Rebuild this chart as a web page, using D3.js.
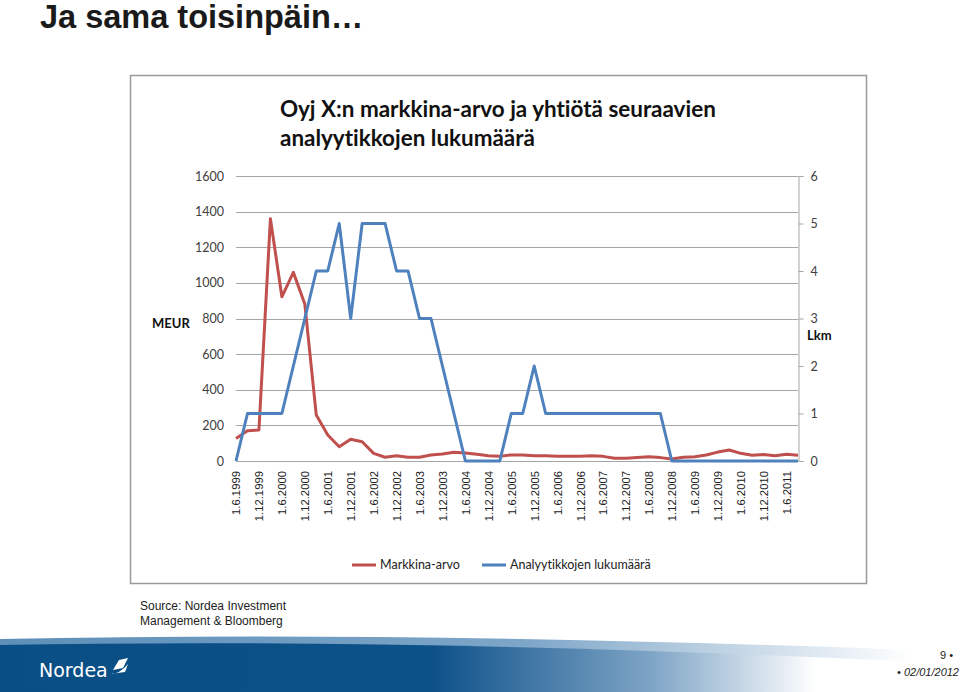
<!DOCTYPE html>
<html>
<head>
<meta charset="utf-8">
<script src="https://cdn.jsdelivr.net/npm/d3@7"></script>
<style>
  body { margin: 0; background: #fff; }
  svg { display: block; }
  text { font-variant-ligatures: none; }
</style>
</head>
<body>
<script>
// quarterly dates, labels shown on every second one
var quarters = ["1.6.1999","1.9.1999","1.12.1999",
  "1.3.2000","1.6.2000","1.9.2000","1.12.2000",
  "1.3.2001","1.6.2001","1.9.2001","1.12.2001",
  "1.3.2002","1.6.2002","1.9.2002","1.12.2002",
  "1.3.2003","1.6.2003","1.9.2003","1.12.2003",
  "1.3.2004","1.6.2004","1.9.2004","1.12.2004",
  "1.3.2005","1.6.2005","1.9.2005","1.12.2005",
  "1.3.2006","1.6.2006","1.9.2006","1.12.2006",
  "1.3.2007","1.6.2007","1.9.2007","1.12.2007",
  "1.3.2008","1.6.2008","1.9.2008","1.12.2008",
  "1.3.2009","1.6.2009","1.9.2009","1.12.2009",
  "1.3.2010","1.6.2010","1.9.2010","1.12.2010",
  "1.3.2011","1.6.2011","1.9.2011"];

var tickLabels = ["1.6.1999","1.12.1999","1.6.2000","1.12.2000","1.6.2001","1.12.2001",
  "1.6.2002","1.12.2002","1.6.2003","1.12.2003","1.6.2004","1.12.2004","1.6.2005",
  "1.12.2005","1.6.2006","1.12.2006","1.6.2007","1.12.2007","1.6.2008","1.12.2008",
  "1.6.2009","1.12.2009","1.6.2010","1.12.2010","1.6.2011"];

// Markkina-arvo, MEUR
var marketValue = [127,170,174,1360,922,1059,881,258,146,80,122,108,43,21,30,21,21,34,39,49,
  45,38,30,26,34,34,30,30,26,26,26,30,26,15,15,20,24,19,11,21,24,34,50,62,43,32,36,30,38,32];

// Analyytikkojen lukumäärä
var analysts = [0,1,1,1,1,2,3,4,4,5,3,5,5,5,4,4,3,3,2,1,0,0,0,0,1,1,2,
  1,1,1,1,1,1,1,1,1,1,1,0,0,0,0,0,0,0,0,0,0,0,0];

var leftTicks = [0,200,400,600,800,1000,1200,1400,1600];
var rightTicks = [0,1,2,3,4,5,6];

var width = 960,
    height = 692;

var red = "#c0504d",
    blue = "#4f81bd";

var svg = d3.select("body").append("svg")
    .attr("width", width)
    .attr("height", height)

var defs = svg.append("defs");

// slide title
svg.append("text")
    .attr("x", 40)
    .attr("y", 28)
    .attr("font-family", "Liberation Sans, Arial, sans-serif")
    .attr("font-weight", "bold")
    .attr("font-size", 32.5)
    .attr("fill", "#1a1a1a")
    .text("Ja sama toisinpäin…");

// chart box
svg.append("rect")
    .attr("x", 130.5)
    .attr("y", 75.5)
    .attr("width", 736)
    .attr("height", 508)
    .attr("fill", "#fff")
    .attr("stroke", "#9a9a9a")
    .attr("stroke-width", 1.5);

var title = svg.append("g")
    .attr("font-family", "Lato, sans-serif")
    .attr("font-weight", "bold")
    .attr("fill", "#111");
var t1 = title.append("text").attr("x", 280).attr("y", 117).text("Oyj X:n markkina-arvo ja yhtiötä seuraavien");
var t2 = title.append("text").attr("x", 280).attr("y", 146).text("analyytikkojen lukumäärä");
// fit first line to the width seen in the picture
t1.attr("font-size", 20);
var fs = 20 * 436 / t1.node().getComputedTextLength();
t1.attr("font-size", fs);
t2.attr("font-size", fs);

var x = d3.scalePoint()
    .domain(quarters)
    .range([236, 798]);

var yLeft = d3.scaleLinear()
    .domain([0, 1600])
    .range([461, 176]);

var yRight = d3.scaleLinear()
    .domain([0, 6])
    .range([461, 176]);

// gridlines
svg.append("g")
    .selectAll("line")
    .data(leftTicks)
    .enter().append("line")
    .attr("x1", 236)
    .attr("x2", 798)
    .attr("y1", function(d){ return Math.round(yLeft(d)) + 0.5 })
    .attr("y2", function(d){ return Math.round(yLeft(d)) + 0.5 })
    .attr("stroke", "#a6a6a6")
    .attr("stroke-width", 1);

// left axis labels
var leftAxis = svg.append("g")
    .attr("transform", "translate(236,0)")
    .call(d3.axisLeft(yLeft).tickValues(leftTicks).tickFormat(d3.format("d")).tickSize(0).tickPadding(12));
leftAxis.select(".domain").remove();
leftAxis.selectAll("text")
    .attr("font-family", "Lato, sans-serif")
    .attr("font-size", 12.5)
    .attr("fill", "#404040");

// right axis
var rightAxis = svg.append("g")
    .attr("transform", "translate(798.5,0)")
    .call(d3.axisRight(yRight).tickValues(rightTicks).tickFormat(d3.format("d")).tickSize(5).tickPadding(7));
rightAxis.select(".domain")
    .attr("stroke", "#a6a6a6");
rightAxis.selectAll(".tick line").attr("stroke", "#a6a6a6");
rightAxis.selectAll("text")
    .attr("font-family", "Lato, sans-serif")
    .attr("font-size", 12.5)
    .attr("fill", "#404040");

// x axis labels
var xAxis = svg.append("g")
    .attr("transform", "translate(0,461)")
    .call(d3.axisBottom(x).tickValues(tickLabels).tickSize(0).tickPadding(0));
xAxis.select(".domain").remove();
xAxis.selectAll("text")
    .attr("font-family", "Liberation Sans, Arial, sans-serif")
    .attr("font-size", 11.3)
    .attr("fill", "#222")
    .attr("text-anchor", "end")
    .attr("dy", "0.35em")
    .attr("transform", "translate(0,10) rotate(-90)");

// axis titles
svg.append("text")
    .attr("x", 152).attr("y", 328)
    .attr("font-family", "Lato, sans-serif")
    .attr("font-weight", "bold")
    .attr("font-size", 13)
    .attr("fill", "#111")
    .text("MEUR");
svg.append("text")
    .attr("x", 807).attr("y", 340)
    .attr("font-family", "Lato, sans-serif")
    .attr("font-weight", "bold")
    .attr("font-size", 13)
    .attr("fill", "#111")
    .text("Lkm");

// lines
var lineLeft = d3.line()
    .x(function(d, i){ return x(quarters[i]) })
    .y(function(d){ return yLeft(d) });
var lineRight = d3.line()
    .x(function(d, i){ return x(quarters[i]) })
    .y(function(d){ return yRight(d) });

svg.append("path")
    .datum(marketValue)
    .attr("d", lineLeft)
    .attr("fill", "none")
    .attr("stroke", red)
    .attr("stroke-width", 3)
    .attr("stroke-linejoin", "round");

svg.append("path")
    .datum(analysts)
    .attr("d", lineRight)
    .attr("fill", "none")
    .attr("stroke", blue)
    .attr("stroke-width", 3)
    .attr("stroke-linejoin", "round");

// legend
var legendItems = [
  {name: "Markkina-arvo", color: red, x: 352},
  {name: "Analyytikkojen lukumäärä", color: blue, x: 482}
];
var legend = svg.append("g")
    .selectAll("g")
    .data(legendItems)
    .enter().append("g")
    .attr("transform", function(d){ return "translate(" + d.x + ",565)" });
legend.append("line")
    .attr("x1", 0).attr("x2", 24)
    .attr("stroke", function(d){ return d.color })
    .attr("stroke-width", 3);
legend.append("text")
    .attr("x", 28)
    .attr("dy", "0.35em")
    .attr("font-family", "Lato, sans-serif")
    .attr("font-size", 12.5)
    .attr("fill", "#222")
    .text(function(d){ return d.name });

// source note
var source = svg.append("g")
    .attr("font-family", "Liberation Sans, Arial, sans-serif")
    .attr("font-size", 12)
    .attr("fill", "#222");
source.append("text").attr("x", 140).attr("y", 610).text("Source: Nordea Investment");
source.append("text").attr("x", 140).attr("y", 625).text("Management & Bloomberg");

// footer band
var gLight = defs.append("linearGradient").attr("id", "light");
gLight.append("stop").attr("offset", "0%").attr("stop-color", "#5d8fb8");
gLight.append("stop").attr("offset", "55%").attr("stop-color", "#7ea6c8");
gLight.append("stop").attr("offset", "95%").attr("stop-color", "#fff");

var gDark = defs.append("linearGradient").attr("id", "dark");
gDark.append("stop").attr("offset", "0%").attr("stop-color", "#0a4e86");
gDark.append("stop").attr("offset", "45%").attr("stop-color", "#0d5189");
gDark.append("stop").attr("offset", "68%").attr("stop-color", "#7fa5c6");
gDark.append("stop").attr("offset", "85%").attr("stop-color", "#fff");

svg.append("path")
    .attr("d", "M0,639 Q420,630 960,652 L960,692 L0,692 Z")
    .attr("fill", "url(#light)");
svg.append("path")
    .attr("d", "M0,645 Q420,637 960,664 L960,692 L0,692 Z")
    .attr("fill", "url(#dark)");

// logo
svg.append("text")
    .attr("x", 39).attr("y", 677)
    .attr("font-family", "DejaVu Sans, sans-serif")
    .attr("font-size", 19)
    .attr("fill", "#fff")
    .text("Nordea");
svg.append("path")
    .attr("d", "M113,670 L119,660 L128,658 L123,668 Z M110,674 Q120,674 128,664 L125,672 Z")
    .attr("fill", "#fff");

// page number and date
svg.append("text")
    .attr("x", 953).attr("y", 659)
    .attr("text-anchor", "end")
    .attr("font-family", "Liberation Sans, Arial, sans-serif")
    .attr("font-size", 11)
    .attr("fill", "#222")
    .text("9 •");
svg.append("text")
    .attr("x", 959).attr("y", 676)
    .attr("text-anchor", "end")
    .attr("font-family", "Liberation Sans, Arial, sans-serif")
    .attr("font-size", 11)
    .attr("font-style", "italic")
    .attr("fill", "#222")
    .text("• 02/01/2012");
</script>
</body>
</html>
